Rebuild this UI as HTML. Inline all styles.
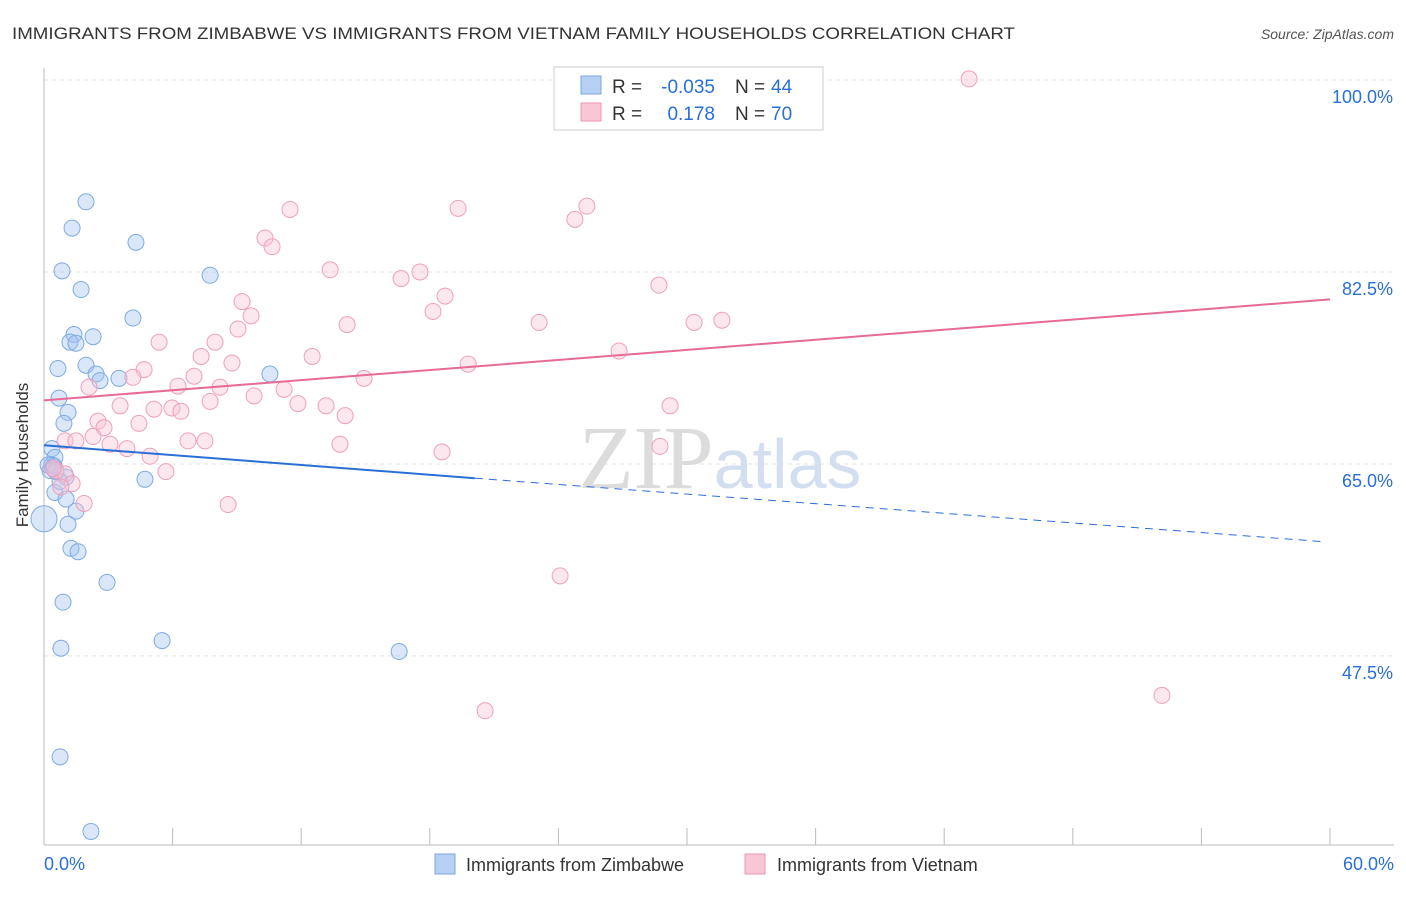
<!DOCTYPE html>
<html><head><meta charset="utf-8"><style>
body{margin:0;background:#fff;font-family:"Liberation Sans",sans-serif}
</style></head><body>
<svg width="1406" height="892" xmlns="http://www.w3.org/2000/svg" font-family="Liberation Sans, sans-serif">
<text x="12" y="39" font-size="17" fill="#333" textLength="1003" lengthAdjust="spacingAndGlyphs">IMMIGRANTS FROM ZIMBABWE VS IMMIGRANTS FROM VIETNAM FAMILY HOUSEHOLDS CORRELATION CHART</text>
<text x="1394" y="39" font-size="14" fill="#555" text-anchor="end" font-style="italic">Source: ZipAtlas.com</text>
<g id="grid"></g>
<text x="720" y="488" font-size="90" fill="#ddd" text-anchor="middle" font-family="Liberation Serif, serif"><tspan fill="#dcdcdc">ZIP</tspan><tspan fill="#d3dff0" font-family="Liberation Sans, sans-serif" font-size="70">atlas</tspan></text>
<g id="axes"></g>
<g id="pts"></g>
<g id="lines"></g>
<text x="28" y="455" font-size="17" fill="#333" text-anchor="middle" transform="rotate(-90 28 455)">Family Households</text>
<g>
<rect x="554" y="67" width="269" height="63" fill="#fff" stroke="#ccc"/>
<rect x="581" y="76" width="20" height="18" fill="#b5d0f3" stroke="#7aa6e0"/>
<rect x="581" y="103" width="20" height="18" fill="#f9c6d6" stroke="#ee95b1"/>
<text x="612" y="93" font-size="19" fill="#333">R =</text>
<text x="715" y="93" font-size="19" fill="#2a6fd6" text-anchor="end">-0.035</text>
<text x="735" y="93" font-size="19" fill="#333">N =</text>
<text x="771" y="93" font-size="19" fill="#2a6fd6">44</text>
<text x="612" y="120" font-size="19" fill="#333">R =</text>
<text x="715" y="120" font-size="19" fill="#2a6fd6" text-anchor="end">0.178</text>
<text x="735" y="120" font-size="19" fill="#333">N =</text>
<text x="771" y="120" font-size="19" fill="#2a6fd6">70</text>
</g>
<g>
<rect x="435" y="854" width="20" height="20" fill="#b5d0f3" stroke="#7aa6e0"/>
<text x="466" y="871" font-size="18" fill="#333">Immigrants from Zimbabwe</text>
<rect x="745" y="854" width="20" height="20" fill="#f9c6d6" stroke="#ee95b1"/>
<text x="777" y="871" font-size="18" fill="#333">Immigrants from Vietnam</text>
</g>
</svg>
<script>
const yTicks=[100,82.5,65,47.5];
const xTickLabels=["0.0%","60.0%"];
const zimX=[1.96,1.31,4.29,0.84,7.75,1.73,4.15,1.40,1.21,1.49,2.29,0.65,1.96,2.43,2.61,3.50,10.54,0.70,1.12,0.93,0.37,0.51,0.37,0.28,0.56,1.03,4.71,0.51,1.03,1.49,1.12,1.26,1.59,2.94,0.89,5.51,0.79,16.57,0.75,2.19,0.0,0.19,0.47,0.75];
const zimY=[88.9,86.5,85.2,82.6,82.2,80.9,78.3,76.8,76.1,76.0,76.6,73.7,74.0,73.2,72.6,72.8,73.2,71.0,69.7,68.7,66.4,65.6,64.9,64.4,64.3,63.8,63.6,62.4,61.8,60.7,59.5,57.3,57.0,54.2,52.4,48.9,48.2,47.9,38.3,31.5,60.0,64.9,64.8,63.4];
const vnX=[43.16,11.48,19.32,25.33,24.77,10.31,10.64,13.35,17.54,16.66,28.69,18.71,9.24,9.66,18.15,14.14,23.10,30.33,31.63,9.05,5.37,7.98,7.33,12.51,26.83,8.77,19.79,4.67,4.15,14.93,7.00,6.25,2.10,8.21,11.20,9.80,7.75,11.85,13.16,5.13,3.55,5.97,6.39,14.05,29.21,2.52,4.43,2.80,2.29,0.98,1.49,6.72,7.51,3.08,3.87,13.81,18.57,28.74,4.95,5.69,0.56,0.98,1.31,0.79,1.87,8.59,24.08,52.16,20.58,0.42];
const vnY=[100.1,88.2,88.3,88.5,87.3,85.6,84.8,82.7,82.5,81.9,81.3,80.3,79.8,78.5,78.9,77.7,77.9,77.9,78.1,77.3,76.1,76.1,74.8,74.8,75.3,74.2,74.1,73.6,72.9,72.8,73.0,72.1,72.0,72.0,71.8,71.2,70.7,70.5,70.3,70.0,70.3,70.1,69.8,69.4,70.3,68.9,68.7,68.3,67.5,67.1,67.1,67.1,67.1,66.8,66.4,66.8,66.1,66.6,65.7,64.3,64.4,64.1,63.2,62.9,61.4,61.3,54.8,43.9,42.5,64.6];
const blueTrend=[[0,66.7],[20.1,63.7],[59.8,57.9]];
const pinkTrend=[[0,70.8],[60,80.0]];
const NS="http://www.w3.org/2000/svg";
const X=v=>44+v/60*1286, Y=v=>80+(100-v)*10.97;
function mk(t,a,p){const e=document.createElementNS(NS,t);for(const k in a)e.setAttribute(k,a[k]);document.getElementById(p).appendChild(e);return e;}
yTicks.forEach(t=>{const g=mk('line',{x1:44,x2:1394,y1:Y(t),y2:Y(t),stroke:'#e3e3e3','stroke-dasharray':'4,4'},'grid');


const l=mk('text',{x:1393,y:Y(t)+23,'font-size':18,fill:'#2a6fd6','text-anchor':'end'},'grid');l.textContent=t.toFixed(1)+'%';

});
mk('line',{x1:44,x2:44,y1:68,y2:845,stroke:'#bbb'},'axes');
mk('line',{x1:44,x2:1394,y1:845,y2:845,stroke:'#bbb'},'axes');
for(let i=0;i<=10;i++){mk('line',{x1:X(i*6),x2:X(i*6),y1:828,y2:845,stroke:'#bbb'},'axes');}
[[0,'start',44],[1,'end',1394]].forEach(([i,a,x])=>{const t=mk('text',{x:x,y:870,'font-size':18,fill:'#2a6fd6','text-anchor':a},'axes');t.textContent=xTickLabels[i];

});
zimX.forEach((v,i)=>{const c=mk('circle',{cx:X(v),cy:Y(zimY[i]),r:i==40?13:8,fill:'rgba(160,195,240,0.4)',stroke:'#7faae3','stroke-width':1},'pts');

});
vnX.forEach((v,i)=>{const c=mk('circle',{cx:X(v),cy:Y(vnY[i]),r:8,fill:'rgba(250,195,212,0.4)',stroke:'#eea0ba','stroke-width':1},'pts');

});
let b=mk('line',{x1:X(blueTrend[0][0]),y1:Y(blueTrend[0][1]),x2:X(blueTrend[1][0]),y2:Y(blueTrend[1][1]),stroke:'#2a6fd6','stroke-width':2},'lines');


b=mk('line',{x1:X(blueTrend[1][0]),y1:Y(blueTrend[1][1]),x2:X(blueTrend[2][0]),y2:Y(blueTrend[2][1]),stroke:'#2a6fd6','stroke-width':1,'stroke-dasharray':'8,6'},'lines');


b=mk('line',{x1:X(pinkTrend[0][0]),y1:Y(pinkTrend[0][1]),x2:X(pinkTrend[1][0]),y2:Y(pinkTrend[1][1]),stroke:'#e66b96','stroke-width':2},'lines');


</script>
</body></html>
